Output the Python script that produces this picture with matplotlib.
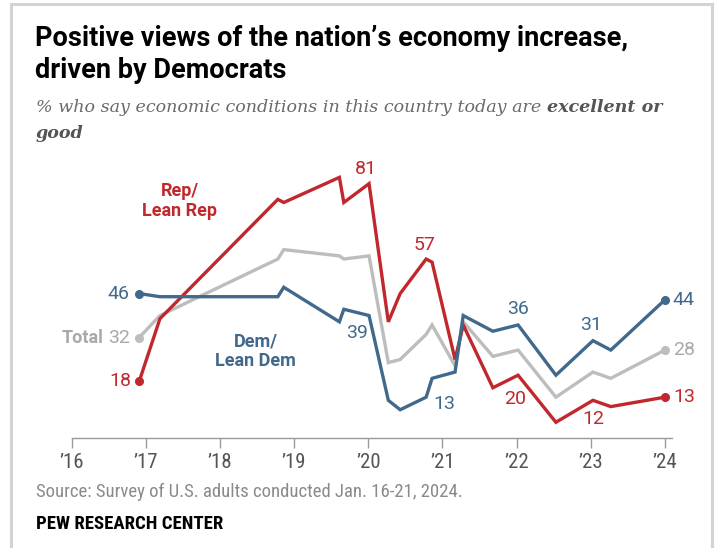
import matplotlib
matplotlib.use("Agg")
import matplotlib.pyplot as plt
from matplotlib import font_manager
from matplotlib.lines import Line2D

# ---------------- data ----------------
dates = [2016.91, 2017.19, 2018.78, 2018.86, 2019.61, 2019.67, 2020.01, 2020.27,
         2020.43, 2020.78, 2020.86, 2021.17, 2021.28, 2021.68, 2022.02, 2022.53,
         2023.03, 2023.27, 2024.0]
rep = [18, 38, 76, 75, 83, 75, 81, 37, 46, 57, 56, 25, 36, 16, 20, 5, 12, 10, 13]
dem = [46, 45, 45, 48, 37, 41, 39, 12, 9, 13, 19, 21, 39, 34, 36, 20, 31, 28, 44]
total = [32, 39, 57, 60, 58, 57, 58, 24, 25, 33, 36, 23, 37, 26, 28, 13, 21, 19, 28]
tick_years = [2016, 2017, 2018, 2019, 2020, 2021, 2022, 2023, 2024]
tick_labels = ["\u201916", "\u201917", "\u201918", "\u201919", "\u201920",
               "\u201921", "\u201922", "\u201923", "\u201924"]

REP_C = "#C0282D"
DEM_C = "#41698C"
TOT_C = "#BDBDBD"
TOT_TXT = "#A9A9A9"

names = {f.name for f in font_manager.fontManager.ttflist}
def pick(*cands):
    for c in cands:
        if c in names:
            return c
    return "DejaVu Sans"

COND = pick("Roboto Condensed", "Liberation Sans Narrow", "Roboto", "Liberation Sans")
SANS = pick("Roboto", "Liberation Sans")
SERIF = pick("DejaVu Serif", "Liberation Serif")

W, H = 719, 548
fig = plt.figure(figsize=(W / 100, H / 100), dpi=100)

def fx(px):
    return px / W
def fy(py):
    return 1 - py / H

# frame
for (x0, y0, x1, y1) in [(11, 4, 11, 548), (11, 4, 712, 4), (712, 4, 712, 548)]:
    fig.add_artist(Line2D([fx(x0), fx(x1)], [fy(y0), fy(y1)], color="#D3D3D3", lw=2.2))

# axes: x 2016 at px 71.7, 74.15 px/yr ; y 0 at px 438, 3.14 px/pt
x_left, px_per_yr = 71.7, 74.15
y0px, px_per_pt = 438, 3.14
xmin, xmax = 2016, 2024.1
ymin, ymax = 0, 90
ax = fig.add_axes([fx(x_left), fy(y0px),
                   (xmax - xmin) * px_per_yr / W, (ymax - ymin) * px_per_pt / H])
ax.set_xlim(xmin, xmax)
ax.set_ylim(ymin, ymax)
ax.patch.set_alpha(0)
for s in ["top", "right", "left"]:
    ax.spines[s].set_visible(False)
ax.spines["bottom"].set_color("#9A9A9A")
ax.spines["bottom"].set_linewidth(1.0)
ax.set_yticks([])
ax.set_xticks(tick_years)
ax.set_xticklabels(tick_labels, fontsize=15, color="#555555", family=COND)
ax.tick_params(axis="x", length=7, width=1.0, color="#9A9A9A", pad=4)

lw = 2.4
ax.plot(dates, total, color=TOT_C, lw=lw, solid_joinstyle="miter", zorder=2)
ax.plot(dates, rep, color=REP_C, lw=lw, solid_joinstyle="miter", zorder=3)
ax.plot(dates, dem, color=DEM_C, lw=lw, solid_joinstyle="miter", zorder=4)
for ser, c in [(total, TOT_C), (rep, REP_C), (dem, DEM_C)]:
    ax.plot([dates[0], dates[-1]], [ser[0], ser[-1]], "o", color=c, ms=5.5, zorder=5)

PX = 72 / 100  # points per pixel
def lab(i, ser, txt, dx, dy, color, ha="center", va="center", weight="normal", size=14):
    ax.annotate(txt, xy=(dates[i], ser[i]), xytext=(dx * PX, dy * PX),
                textcoords="offset points", ha=ha, va=va, color=color,
                fontsize=size, fontweight=weight, family=SANS)

# Rep labels
lab(0, rep, str(rep[0]), -8, 0, REP_C, ha="right")
lab(6, rep, str(rep[6]), -3, 15, REP_C)
lab(9, rep, str(rep[9]), -2, 14, REP_C)
lab(14, rep, str(rep[14]), -3, -24, REP_C)
lab(16, rep, str(rep[16]), 0, -19, REP_C)
lab(18, rep, str(rep[18]), 8, 0, REP_C, ha="left")
# Dem labels
lab(0, dem, str(dem[0]), -10, 0, DEM_C, ha="right")
lab(6, dem, str(dem[6]), -12, -17, DEM_C)
lab(9, dem, str(dem[9]), 18, -7, DEM_C)
lab(14, dem, str(dem[14]), 0, 16, DEM_C)
lab(16, dem, str(dem[16]), -2, 16, DEM_C)
lab(18, dem, str(dem[18]), 8, 0, DEM_C, ha="left")
# Total labels
lab(0, total, str(total[0]), -9, 0, TOT_TXT, ha="right")
lab(0, total, "Total", -36, 0, TOT_TXT, ha="right", weight="bold", size=13)
lab(18, total, str(total[18]), 8, 0, TOT_TXT, ha="left")

# series names
ax.text(2017.46, 75.5, "Rep/\nLean Rep", color=REP_C, fontsize=13, fontweight="bold",
        ha="center", va="center", multialignment="center", family=SANS, linespacing=1.1)
ax.text(2018.48, 27.5, "Dem/\nLean Dem", color=DEM_C, fontsize=13, fontweight="bold",
        ha="center", va="center", multialignment="center", family=SANS, linespacing=1.1)

# title
fig.text(fx(35), fy(38), "Positive views of the nation\u2019s economy increase,",
         fontsize=19.5, fontweight="bold", family=SANS, color="#000000", va="center")
fig.text(fx(35), fy(70), "driven by Democrats",
         fontsize=19.5, fontweight="bold", family=SANS, color="#000000", va="center")

# subtitle
SUB = 12.6
t1 = fig.text(fx(36), fy(107), "% who say economic conditions in this country today are ",
              fontsize=SUB, style="italic", family=SERIF, color="#6A6A6A", va="center")
fig.canvas.draw()
bb = t1.get_window_extent(fig.canvas.get_renderer())
fig.text(bb.x1 / W, fy(107), "excellent or", fontsize=SUB, style="italic",
         fontweight="bold", family=SERIF, color="#555555", va="center")
fig.text(fx(36), fy(133), "good", fontsize=SUB, style="italic",
         fontweight="bold", family=SERIF, color="#555555", va="center")

# source
fig.text(fx(36), fy(492), "Source: Survey of U.S. adults conducted Jan. 16-21, 2024.",
         fontsize=13.5, family=COND, color="#8A8A8A", va="center")
fig.text(fx(36), fy(524), "PEW RESEARCH CENTER", fontsize=13.5, fontweight="bold",
         family=COND, color="#000000", va="center")

fig.savefig("out.png", dpi=100)
